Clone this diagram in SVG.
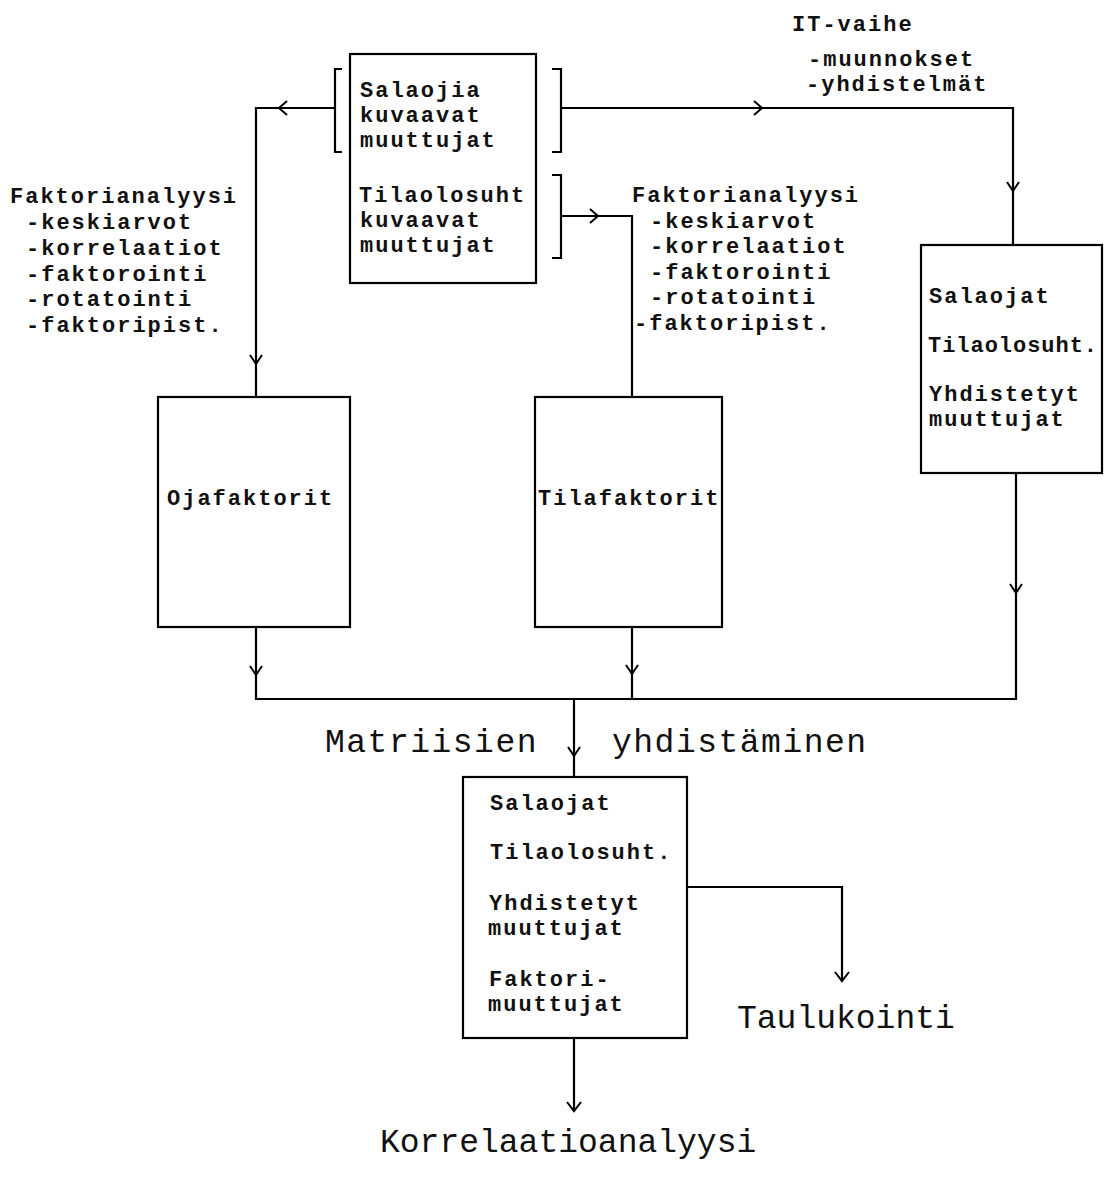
<svg xmlns="http://www.w3.org/2000/svg" width="1104" height="1179" viewBox="0 0 1104 1179">
<style>
.box{fill:none;stroke:#000;stroke-width:2.2}
.ln{fill:none;stroke:#000;stroke-width:2.2;stroke-linejoin:miter}
.ah{fill:none;stroke:#000;stroke-width:2}
.t{font-family:"Liberation Mono","Courier New",monospace;font-size:22px;letter-spacing:2px;font-weight:bold;fill:#111}
.big{font-family:"Liberation Mono","Courier New",monospace;font-size:33px;fill:#111}
.wide{letter-spacing:1.5px}
</style>
<rect width="1104" height="1179" fill="#fff"/>
<g id="connectors">
<path class="ln" d="M342,69 H335 V152 H342"/>
<path class="ln" d="M552,69 H561 V152 H552"/>
<path class="ln" d="M552,175 H561 V258 H552"/>
<path class="ln" d="M335,108 H256 V397"/>
<path class="ln" d="M561,108 H1013 V245"/>
<path class="ln" d="M561,216 H632 V397"/>
<path class="ln" d="M256,627 V699 H1016 V473"/>
<path class="ln" d="M632,627 V699"/>
<path class="ln" d="M574,699 V777"/>
<path class="ln" d="M687,887 H842 V981"/>
<path class="ln" d="M574,1038 V1111"/>
<path class="ah" d="M287,101 L279,108 L287,115"/>
<path class="ah" d="M250,355 L256,364 L262,355"/>
<path class="ah" d="M754,101 L762,108 L754,115"/>
<path class="ah" d="M1007,182 L1013,191 L1019,182"/>
<path class="ah" d="M590,209 L598,216 L590,223"/>
<path class="ah" d="M250,666 L256,675 L262,666"/>
<path class="ah" d="M626,665 L632,674 L638,665"/>
<path class="ah" d="M1010,584 L1016,593 L1022,584"/>
<path class="ah" d="M568,747 L574,756 L580,747"/>
<path class="ah" d="M835,972 L842,981 L849,972"/>
<path class="ah" d="M567,1102 L574,1111 L581,1102"/>
</g>
<g id="node-input">
<rect class="box" x="350" y="54" width="186" height="229"/>
<text class="t" x="360" y="97">Salaojia</text>
<text class="t" x="360" y="122">kuvaavat</text>
<text class="t" x="360" y="147">muuttujat</text>
<text class="t" x="359" y="202">Tilaolosuht</text>
<text class="t" x="360" y="227">kuvaavat</text>
<text class="t" x="360" y="252">muuttujat</text>
</g>
<g id="label-left">
<text class="t" x="10" y="203">Faktorianalyysi</text>
<text class="t" x="26" y="229">-keskiarvot</text>
<text class="t" x="26" y="255">-korrelaatiot</text>
<text class="t" x="26" y="281">-faktorointi</text>
<text class="t" x="26" y="306">-rotatointi</text>
<text class="t" x="26" y="332">-faktoripist.</text>
</g>
<g id="label-right">
<text class="t" x="632" y="202">Faktorianalyysi</text>
<text class="t" x="650" y="228">-keskiarvot</text>
<text class="t" x="650" y="253">-korrelaatiot</text>
<text class="t" x="650" y="279">-faktorointi</text>
<text class="t" x="650" y="304">-rotatointi</text>
<text class="t" x="634" y="330">-faktoripist.</text>
</g>
<g id="label-it">
<text class="t" x="792" y="31">IT-vaihe</text>
<text class="t" x="808" y="66">-muunnokset</text>
<text class="t" x="806" y="91">-yhdistelmät</text>
</g>
<g id="node-it">
<rect class="box" x="921" y="245" width="181" height="228"/>
<text class="t" x="929" y="303">Salaojat</text>
<text class="t" x="928" y="352" textLength="171" lengthAdjust="spacing">Tilaolosuht.</text>
<text class="t" x="929" y="401">Yhdistetyt</text>
<text class="t" x="929" y="426">muuttujat</text>
</g>
<g id="node-oja">
<rect class="box" x="158" y="397" width="192" height="230"/>
<text class="t" x="167" y="505">Ojafaktorit</text>
</g>
<g id="node-tila">
<rect class="box" x="535" y="397" width="187" height="230"/>
<text class="t" x="538" y="505">Tilafaktorit</text>
</g>
<g id="label-merge">
<text class="big wide" x="325" y="752">Matriisien</text>
<text class="big wide" x="612" y="752">yhdistäminen</text>
</g>
<g id="node-combined">
<rect class="box" x="463" y="777" width="224" height="261"/>
<text class="t" x="490" y="810">Salaojat</text>
<text class="t" x="490" y="859">Tilaolosuht.</text>
<text class="t" x="489" y="910">Yhdistetyt</text>
<text class="t" x="488" y="935">muuttujat</text>
<text class="t" x="489" y="986">Faktori-</text>
<text class="t" x="488" y="1011">muuttujat</text>
</g>
<g id="node-taulukointi">
<text class="big" x="737" y="1028">Taulukointi</text>
</g>
<g id="node-korrelaatio">
<text class="big" x="380" y="1152">Korrelaatioanalyysi</text>
</g>
</svg>
